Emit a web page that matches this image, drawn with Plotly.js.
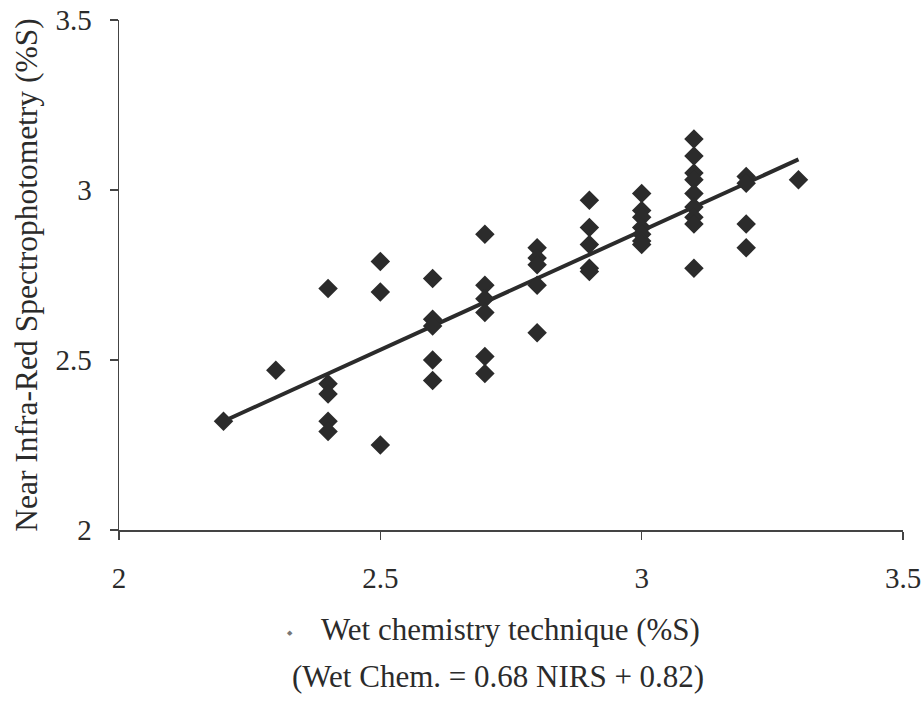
<!DOCTYPE html>
<html><head><meta charset="utf-8">
<script src="https://cdn.plot.ly/plotly-3.0.1.min.js"></script>
<style>body{margin:0;background:#fff}#chart{width:924px;height:705px}</style>
</head><body><div id="chart"></div>
<script>
// Wet chemistry (%S) values
const wetChem = [
  2.2,
  2.3,
  2.4, 2.4, 2.4, 2.4, 2.4,
  2.5, 2.5, 2.5,
  2.6, 2.6, 2.6, 2.6, 2.6,
  2.7, 2.7, 2.7, 2.7, 2.7, 2.7,
  2.8, 2.8, 2.8, 2.8, 2.8,
  2.9, 2.9, 2.9, 2.9, 2.9,
  3.0, 3.0, 3.0, 3.0, 3.0, 3.0, 3.0,
  3.1, 3.1, 3.1, 3.1, 3.1, 3.1, 3.1, 3.1, 3.1,
  3.2, 3.2, 3.2, 3.2,
  3.3
];
// NIRS (%S) values
const nirs = [
  2.32,
  2.47,
  2.71, 2.43, 2.40, 2.32, 2.29,
  2.79, 2.70, 2.25,
  2.74, 2.62, 2.60, 2.50, 2.44,
  2.87, 2.72, 2.68, 2.64, 2.51, 2.46,
  2.83, 2.80, 2.78, 2.72, 2.58,
  2.97, 2.89, 2.84, 2.77, 2.76,
  2.99, 2.94, 2.92, 2.89, 2.87, 2.85, 2.84,
  3.15, 3.10, 3.05, 3.03, 2.99, 2.95, 2.92, 2.90, 2.77,
  3.04, 3.02, 2.90, 2.83,
  3.03
];
// fitted line endpoints
const fitX = [2.2, 3.3];
const fitY = [2.32, 3.09];
const xTicks = [2, 2.5, 3, 3.5];
const yTicks = [2, 2.5, 3, 3.5];
const xTitle = "Wet chemistry technique (%S)";
const yTitle = "Near Infra-Red Spectrophotometry (%S)";
const equation = "(Wet Chem. = 0.68 NIRS + 0.82)";

const font = "Liberation Serif, Times New Roman, serif";
const ink = "#2b2b2b";

const traces = [
  {x: fitX, y: fitY, mode: "lines", line: {color: ink, width: 4}, hoverinfo: "skip", showlegend: false},
  {x: wetChem, y: nirs, mode: "markers", marker: {symbol: "diamond", size: 15, color: ink}, showlegend: false}
];

const layout = {
  width: 924, height: 705,
  margin: {l: 119, r: 21, t: 20, b: 175},
  paper_bgcolor: "#fff", plot_bgcolor: "#fff",
  font: {family: font, color: ink, size: 29},
  xaxis: {
    range: [2, 3.5], tickvals: xTicks, ticktext: xTicks.map(String),
    showgrid: false, zeroline: false, showline: true, linecolor: "#444", linewidth: 1.5,
    ticks: "outside", ticklen: 8, tickcolor: "#444", tickwidth: 1.5,
    tickfont: {family: font, size: 29, color: ink}, ticklabelstandoff: 14
  },
  yaxis: {
    range: [2, 3.5], tickvals: yTicks, ticktext: yTicks.map(String),
    showgrid: false, zeroline: false, showline: true, linecolor: "#444", linewidth: 1.5,
    ticks: "outside", ticklen: 8, tickcolor: "#444", tickwidth: 1.5,
    tickfont: {family: font, size: 29, color: ink}, ticklabelstandoff: 12,
    title: {text: yTitle, font: {family: font, size: 31.5, color: ink}, standoff: 8}
  },
  annotations: [
    {xref: "paper", yref: "paper", x: 0.499, y: -0.196, xanchor: "center", yanchor: "middle",
     text: xTitle, showarrow: false, font: {family: font, size: 31, color: ink}},
    {xref: "paper", yref: "paper", x: 0.218, y: -0.202, xanchor: "center", yanchor: "middle",
     text: "◆", showarrow: false, font: {family: font, size: 7, color: "#777"}},
    {xref: "paper", yref: "paper", x: 0.483, y: -0.288, xanchor: "center", yanchor: "middle",
     text: equation, showarrow: false, font: {family: font, size: 31, color: ink}}
  ]
};

Plotly.newPlot("chart", traces, layout, {displayModeBar: false, staticPlot: true});
</script></body></html>
